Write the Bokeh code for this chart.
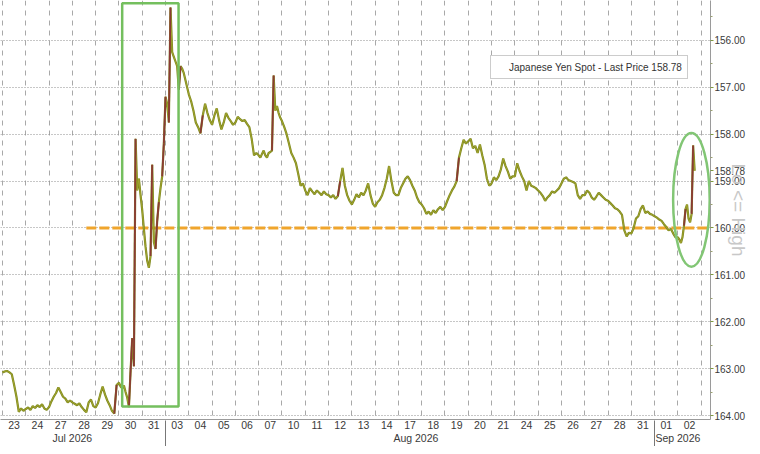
import math
from bokeh.plotting import figure
from bokeh.models import (Range1d, FixedTicker, LinearAxis, PrintfTickFormatter,
                          Legend, LegendItem)
from bokeh.embed import file_html
from bokeh.resources import INLINE

# ---------------- data ----------------
day_labels = ["23", "24", "27", "28", "29", "30", "31", "03", "04", "05", "06", "07",
              "10", "11", "12", "13", "14", "17", "18", "19", "20", "21", "24", "25",
              "26", "27", "28", "31", "01", "02"]
month_labels = ["Jul 2026", "Aug 2026", "Sep 2026"]
month_label_pos = [3.0, 17.75, 29.0]
month_breaks = [7, 28]
price_ticks = [156, 157, 158, 159, 160, 161, 162, 163, 164]
price_minor = [155.5, 156.5, 157.5, 158.5, 159.5, 160.5, 161.5, 162.5, 163.5]
last_price = 158.78
level_line = 160.0
level_start_day = 3.6
last_session_frac = 0.72

# intraday USD/JPY samples, one list per trading day
jul23 = [163.08, 163.06, 163.05, 163.08, 163.12, 163.35, 163.6, 163.92, 163.85, 163.9]
jul24 = [163.86, 163.83, 163.88, 163.8, 163.84, 163.78, 163.82, 163.76, 163.85, 163.88]
jul27 = [163.82, 163.7, 163.6, 163.52, 163.4, 163.5, 163.6, 163.64, 163.72, 163.68]
jul28 = [163.72, 163.75, 163.78, 163.74, 163.82, 163.88, 163.93, 163.72, 163.66, 163.8]
jul29 = [163.83, 163.74, 163.55, 163.38, 163.55, 163.68, 163.78, 163.9, 163.96, 163.35]
jul30 = [163.3, 163.38, 163.42, 163.36, 163.5, 163.62, 163.82, 163.05, 162.35, 162.95,
         158.1, 159.2, 158.95, 159.3]
jul31 = [159.62, 160.02, 160.4, 160.7, 160.85, 160.6, 158.65, 160.3, 160.45, 159.85,
         159.45, 159.15, 158.9, 158.2]
aug03 = [157.2, 157.35, 157.75, 155.3, 156.25, 156.35, 156.45, 156.55, 157.05, 156.55,
         156.6, 156.7, 156.85, 157.0]
aug04 = [157.15, 157.3, 157.5, 157.75, 157.85, 157.98, 157.6, 157.35, 157.55, 157.7]
aug05 = [157.8, 157.6, 157.45, 157.7, 157.9, 157.75, 157.55, 157.65, 157.72, 157.8]
aug06 = [157.75, 157.63, 157.68, 157.72, 157.7, 157.78, 157.85, 158.1, 158.45, 158.4]
aug07 = [158.45, 158.5, 158.42, 158.35, 158.45, 158.5, 158.4, 158.38, 158.35, 156.75,
         157.5, 157.4, 157.55, 157.65]
aug10 = [157.72, 157.85, 158.0, 158.2, 158.4, 158.5, 158.62, 158.85, 159.1, 159.05]
aug11 = [159.2, 159.3, 159.15, 159.22, 159.28, 159.2, 159.25, 159.3, 159.22, 159.28]
aug12 = [159.3, 159.35, 159.3, 159.38, 159.32, 159.0, 158.72, 159.1, 159.3, 159.42]
aug13 = [159.5, 159.4, 159.28, 159.35, 159.25, 159.3, 159.2, 159.05, 159.3, 159.48]
aug14 = [159.55, 159.45, 159.4, 159.3, 159.15, 158.95, 158.68, 159.0, 159.25, 159.3]
aug17 = [159.3, 159.15, 159.05, 158.95, 158.9, 158.98, 159.1, 159.2, 159.35, 159.45]
aug18 = [159.5, 159.58, 159.7, 159.65, 159.72, 159.62, 159.68, 159.6, 159.55, 159.62]
aug19 = [159.55, 159.42, 159.3, 159.2, 159.12, 159.0, 158.5, 158.3, 158.12, 158.2]
aug20 = [158.15, 158.1, 158.3, 158.25, 158.4, 158.22, 158.45, 158.65, 158.95, 159.1]
aug21 = [159.05, 158.92, 158.98, 158.9, 158.75, 158.52, 158.68, 158.8, 158.95, 158.9]
aug24 = [158.9, 158.62, 158.78, 158.9, 159.0, 159.2, 159.0, 159.1, 159.12, 159.15]
aug25 = [159.2, 159.25, 159.32, 159.42, 159.35, 159.3, 159.22, 159.25, 159.2, 159.15]
aug26 = [159.05, 158.95, 158.92, 158.98, 159.0, 159.02, 159.05, 159.3, 159.38, 159.3]
aug27 = [159.3, 159.2, 159.25, 159.35, 159.4, 159.33, 159.25, 159.3, 159.35, 159.4]
aug28 = [159.42, 159.47, 159.52, 159.58, 159.6, 159.65, 159.72, 160.05, 160.18, 160.1]
aug31 = [160.12, 160.0, 159.8, 159.75, 159.6, 159.52, 159.68, 159.65, 159.7, 159.72]
sep01 = [159.75, 159.78, 159.82, 159.85, 159.92, 159.98, 160.05, 160.02, 160.12, 160.2]
sep02 = [160.2, 160.25, 160.32, 160.2, 159.95, 159.6, 159.5, 159.8, 159.88, 159.7,
         158.24, 158.78]

daily = [jul23, jul24, jul27, jul28, jul29, jul30, jul31, aug03, aug04, aug05, aug06,
         aug07, aug10, aug11, aug12, aug13, aug14, aug17, aug18, aug19, aug20, aug21,
         aug24, aug25, aug26, aug27, aug28, aug31, sep01, sep02]

# highlight annotations (day index / price coordinates)
box_days = (5.14, 7.56)
box_prices = (155.21, 163.81)
ellipse_day, ellipse_price = 29.58, 159.40
ellipse_w_days, ellipse_h_price = 1.57, 2.85

# ---------------- build series ----------------
t, v = [], []
for k, vals in enumerate(daily):
    n = len(vals)
    if k == len(daily) - 1:
        step = last_session_frac / (n - 1)
    else:
        step = 1.0 / n
    for j, val in enumerate(vals):
        t.append(k + j * step)
        v.append(val)

drop_x0, drop_y0, drop_x1, drop_y1 = [], [], [], []
for i in range(len(v) - 1):
    if v[i + 1] - v[i] < -0.3:
        drop_x0.append(t[i]); drop_y0.append(v[i])
        drop_x1.append(t[i + 1]); drop_y1.append(v[i + 1])

FONT = "Liberation Sans"
n_days = len(day_labels)
x_start, x_end = -0.085, 30.40

p = figure(width=752, height=446,
           x_range=Range1d(x_start, x_end), y_range=Range1d(164.085, 155.149),
           y_axis_location="right", output_backend="svg", toolbar_location=None,
           min_border_left=0, min_border_right=34, min_border_top=0, min_border_bottom=0)
p.outline_line_color = None
p.background_fill_color = "white"
p.border_fill_color = "white"

# grids
p.xgrid.ticker = FixedTicker(ticks=list(range(0, n_days + 1)))
p.xgrid.grid_line_color = "#a8a8a8"
p.xgrid.grid_line_dash = "5 5"
p.xgrid.grid_line_width = 1
p.ygrid.ticker = FixedTicker(ticks=price_ticks)
p.ygrid.grid_line_color = "#8f8f8f"
p.ygrid.grid_line_dash = "1 2"

# right price axis (with the last-price tag as an extra tick)
ya = p.yaxis[0]
ya.ticker = FixedTicker(ticks=price_ticks + [last_price], minor_ticks=price_minor)
ya.formatter = PrintfTickFormatter(format="%.2f")
ya.axis_line_color = "#9a9a9a"
ya.major_tick_out = 3
ya.major_tick_in = 0
ya.minor_tick_out = 2
ya.minor_tick_in = 0
ya.major_tick_line_color = "#7f9a40"
ya.minor_tick_line_color = "#9aa070"
ya.major_label_standoff = 1
ya.major_label_text_font = FONT
ya.major_label_text_font_size = "10px"
ya.major_label_text_color = "#3a3a3a"
ya.axis_label = "Lo <= High"
ya.axis_label_standoff = -20
ya.axis_label_text_font = FONT
ya.axis_label_text_font_style = "normal"
ya.axis_label_text_font_size = "19px"
ya.axis_label_text_color = "#c8c8c8"

# bottom day axis
xa = p.xaxis[0]
centers = [k + 0.5 for k in range(n_days)]
xa.ticker = FixedTicker(ticks=centers)
xa.major_label_overrides = {c: lab for c, lab in zip(centers, day_labels)}
xa.axis_line_color = "#9a9a9a"
xa.major_tick_out = 0
xa.major_tick_in = 0
xa.minor_tick_out = 0
xa.minor_tick_in = 0
xa.minor_tick_line_color = None
xa.major_label_standoff = 1
xa.major_label_text_font = FONT
xa.major_label_text_font_size = "10.5px"
xa.major_label_text_color = "#3a3a3a"

# month axis
ma = LinearAxis(ticker=FixedTicker(ticks=month_label_pos),
                major_label_overrides={pos: lab for pos, lab in zip(month_label_pos, month_labels)})
ma.axis_line_color = None
ma.major_tick_line_color = None
ma.minor_tick_line_color = None
ma.major_tick_out = 0
ma.minor_tick_out = 0
ma.major_label_standoff = 0
ma.major_label_text_font = FONT
ma.major_label_text_font_size = "10.5px"
ma.major_label_text_color = "#3a3a3a"
p.add_layout(ma, "below")

# month separator axis (ticks reaching up to the frame)
sa = LinearAxis(ticker=FixedTicker(ticks=month_breaks),
                major_label_overrides={b: "" for b in month_breaks})
sa.axis_line_color = None
sa.major_tick_line_color = "#777777"
sa.minor_tick_line_color = None
sa.major_tick_out = 0
sa.minor_tick_out = 0
sa.major_tick_in = 26
sa.major_label_standoff = 0
sa.major_label_text_font_size = "0px"
p.add_layout(sa, "below")

# level line
p.segment(x0=[level_start_day], y0=[level_line], x1=[x_end], y1=[level_line],
          line_color="#f0a52c", line_width=3, line_dash="10 3")

# price line
p.line(t, v, line_color="#7e8a1e", line_width=2.2)
p.line(t, v, line_color="#a9a833", line_width=0.8)
p.segment(x0=drop_x0, y0=drop_y0, x1=drop_x1, y1=drop_y1,
          line_color="#8a3a34", line_width=1.8)

# highlight box and ellipse
p.quad(left=[box_days[0]], right=[box_days[1]], top=[box_prices[0]], bottom=[box_prices[1]],
       fill_color=None, line_color="#74bf5e", line_width=2.5)
p.ellipse(x=[ellipse_day], y=[ellipse_price], width=[ellipse_w_days], height=[ellipse_h_price],
          fill_color=None, line_color="#82c675", line_width=2.5)

# legend
sq = p.scatter(x=[], y=[], marker="square", size=9, fill_color="#3f9a2a", line_color="#2f7a1f")
legend = Legend(items=[LegendItem(label="Japanese Yen Spot - Last Price %.2f" % last_price,
                                  renderers=[sq])],
                location=(490, 340))
legend.label_text_font = FONT
legend.label_text_font_size = "10px"
legend.label_text_color = "#333333"
legend.glyph_width = 10
legend.glyph_height = 10
legend.padding = 5
legend.margin = 0
legend.spacing = 0
legend.label_standoff = 3
legend.label_height = 12
legend.border_line_color = "#9a9a9a"
legend.background_fill_color = "white"
legend.background_fill_alpha = 1.0
p.add_layout(legend, "center")

open("out.html", "w").write(file_html(p, INLINE))
